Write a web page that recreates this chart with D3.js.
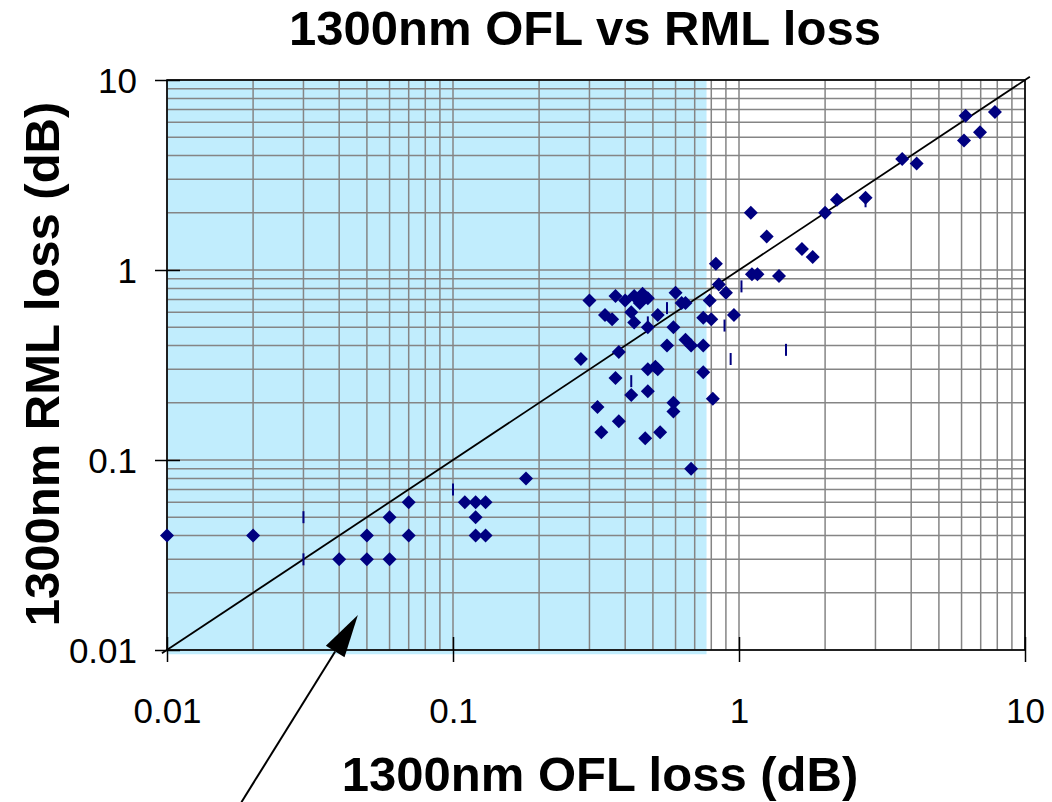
<!DOCTYPE html>
<html>
<head>
<meta charset="utf-8">
<script src="https://cdn.jsdelivr.net/npm/d3@7"></script>
<style>
    body { margin: 0; background: #fff; }
    text { font-family: Arial, "Liberation Sans", sans-serif; fill: #000; }
</style>
</head>
<body>
<div id="chart"></div>
<script>

// measured points (x = OFL loss, y = RML loss), dB
var oflLoss = [0.01, 0.02, 0.04, 0.05, 0.05, 0.06, 0.06, 0.07, 0.07, 0.11, 0.12, 0.13, 0.12, 0.12, 0.13, 0.18,
    0.28, 0.30, 0.37, 0.40, 0.43, 0.46, 0.45, 0.48, 0.60, 0.63, 0.65, 0.79, 0.83, 0.85, 0.90,
    0.34, 0.36, 0.42, 0.43, 0.52, 0.48, 0.59, 0.75, 0.80, 0.96,
    0.38, 0.56, 0.65, 0.68, 0.75, 0.37, 0.48, 0.51, 0.52, 0.75,
    0.42, 0.48, 0.59, 0.59, 0.81, 0.32, 0.38, 0.33, 0.47, 0.53, 0.68,
    1.10, 1.25, 1.11, 1.16, 1.38, 1.66, 1.81, 2.0, 2.20, 2.77, 3.72, 4.18, 6.20, 6.12, 6.96, 7.85];
var rmlLoss = [0.04, 0.04, 0.03, 0.04, 0.03, 0.03, 0.05, 0.06, 0.04, 0.06, 0.06, 0.06, 0.05, 0.04, 0.04, 0.08,
    0.34, 0.69, 0.73, 0.69, 0.73, 0.75, 0.67, 0.71, 0.76, 0.67, 0.67, 0.69, 1.08, 0.84, 0.76,
    0.58, 0.55, 0.60, 0.53, 0.58, 0.50, 0.50, 0.56, 0.55, 0.58,
    0.37, 0.40, 0.43, 0.40, 0.40, 0.27, 0.30, 0.31, 0.30, 0.29,
    0.22, 0.23, 0.20, 0.18, 0.21, 0.19, 0.16, 0.14, 0.13, 0.14, 0.09,
    2.0, 1.50, 0.95, 0.95, 0.93, 1.29, 1.17, 2.0, 2.34, 2.40, 3.84, 3.64, 6.49, 4.80, 5.31, 6.79];

// second series drawn as short vertical dashes
var dashOfl = [0.03, 0.03, 0.10, 0.42, 0.48, 0.56, 0.89, 0.935, 1.02, 1.46, 2.77];
var dashRml = [0.05, 0.03, 0.07, 0.26, 0.53, 0.63, 0.51, 0.34, 0.82, 0.38, 2.3];

// shaded region (OFL range) and y = x reference
var shadeRange = [0.01, 0.77];
var shadeRml = [0.0095, 10];
var refLine = [0.0096, 10.4];

// annotation arrow, tail -> tip, in data units
var arrowOfl = [0.0182, 0.0465];
var arrowRml = [0.00158, 0.01528];

var tickValues = [0.01, 0.1, 1, 10];
var tickLabels = ["0.01", "0.1", "1", "10"];

var chartTitle = "1300nm OFL vs RML loss";
var xTitle = "1300nm OFL loss (dB)";
var yTitle = "1300nm RML loss (dB)";

var margin = {top: 80, right: 27, bottom: 152, left: 167};
var width = 1052 - margin.left - margin.right,
    height = 802 - margin.top - margin.bottom;

var svg = d3.select("#chart")
    .append("svg")
    .attr("width", 1052)
    .attr("height", 802)
    .style("display", "block");

var g = svg.append("g")
    .attr("transform", "translate(" + margin.left + "," + margin.top + ")");

var x = d3.scaleLog().domain([0.01, 10]).range([0, width]);
var y = d3.scaleLog().domain([0.01, 10]).range([height, 0]);

// light blue band
g.append("rect")
    .attr("x", x(shadeRange[0]))
    .attr("y", y(shadeRml[1]))
    .attr("width", x(shadeRange[1]) - x(shadeRange[0]))
    .attr("height", y(shadeRml[0]) - y(shadeRml[1]))
    .style("fill", "#c1edfd");

// grid
g.append("g").selectAll("line")
    .data(x.ticks())
    .enter().append("line")
    .attr("x1", function(d) { return x(d); })
    .attr("x2", function(d) { return x(d); })
    .attr("y1", 0)
    .attr("y2", height)
    .style("stroke", "#858585")
    .style("stroke-width", 1.5);

g.append("g").selectAll("line")
    .data(y.ticks())
    .enter().append("line")
    .attr("y1", function(d) { return y(d); })
    .attr("y2", function(d) { return y(d); })
    .attr("x1", 0)
    .attr("x2", width)
    .style("stroke", "#858585")
    .style("stroke-width", 1.5);

// frame
g.append("rect")
    .attr("width", width)
    .attr("height", height)
    .style("fill", "none")
    .style("stroke", "#000")
    .style("stroke-width", 1.6);

// axes with crossing tick marks
var yAxis = d3.axisLeft(y).tickValues(tickValues)
    .tickFormat(function(d, i) { return tickLabels[i]; })
    .tickSize(12).tickPadding(18);
var xAxis = d3.axisBottom(x).tickValues(tickValues)
    .tickFormat(function(d, i) { return tickLabels[i]; })
    .tickSize(12).tickPadding(36);

var gy = g.append("g").attr("class", "axis").call(yAxis);
var gx = g.append("g").attr("class", "axis")
    .attr("transform", "translate(0," + height + ")")
    .call(xAxis);

[gx, gy].forEach(function(a) {
    a.select(".domain").remove();
    a.selectAll(".tick line").style("stroke", "#000").style("stroke-width", 1.5);
    a.selectAll("text")
        .style("font-family", "Arial, 'Liberation Sans', sans-serif")
        .style("font-size", "35px")
        .style("fill", "#000");
});
gy.selectAll(".tick").append("line")
    .attr("x2", 13).style("stroke", "#000").style("stroke-width", 1.5);
gx.selectAll(".tick").append("line")
    .attr("y2", -13).style("stroke", "#000").style("stroke-width", 1.5);
gy.selectAll("text").attr("dy", "0.36em");
gx.selectAll("text").attr("dy", "0.71em");

// y = x line
g.append("line")
    .attr("x1", x(refLine[0])).attr("y1", y(refLine[0]))
    .attr("x2", x(refLine[1])).attr("y2", y(refLine[1]))
    .style("stroke", "#000")
    .style("stroke-width", 1.8);

// dash series
g.append("g").selectAll("line")
    .data(dashOfl)
    .enter().append("line")
    .attr("x1", function(d) { return x(d); })
    .attr("x2", function(d) { return x(d); })
    .attr("y1", function(d, i) { return y(dashRml[i]) - 6; })
    .attr("y2", function(d, i) { return y(dashRml[i]) + 6; })
    .style("stroke", "#000080")
    .style("stroke-width", 2);

// diamonds
var diamond = d3.symbol().type(d3.symbolSquare).size(98);
g.append("g").selectAll("path")
    .data(oflLoss)
    .enter().append("path")
    .attr("d", diamond)
    .attr("transform", function(d, i) {
        return "translate(" + x(d) + "," + y(rmlLoss[i]) + ") rotate(45)";
    })
    .style("fill", "#000080");

// arrow
var ax0 = x(arrowOfl[0]), ay0 = y(arrowRml[0]),
    ax1 = x(arrowOfl[1]), ay1 = y(arrowRml[1]);
var ang = Math.atan2(ay1 - ay0, ax1 - ax0),
    headLen = 43, headHalf = 11;
var bx = ax1 - headLen * Math.cos(ang), by = ay1 - headLen * Math.sin(ang);
g.append("line")
    .attr("x1", ax0).attr("y1", ay0)
    .attr("x2", bx).attr("y2", by)
    .style("stroke", "#000")
    .style("stroke-width", 2);
g.append("path")
    .attr("d", "M" + ax1 + "," + ay1 +
        "L" + (bx + headHalf * Math.sin(ang)) + "," + (by - headHalf * Math.cos(ang)) +
        "L" + (bx - headHalf * Math.sin(ang)) + "," + (by + headHalf * Math.cos(ang)) + "Z")
    .style("fill", "#000");

// titles
svg.append("text")
    .attr("x", 585)
    .attr("y", 45)
    .attr("text-anchor", "middle")
    .style("font-size", "49px")
    .style("font-weight", "bold")
    .text(chartTitle);

svg.append("text")
    .attr("x", 600)
    .attr("y", 791)
    .attr("text-anchor", "middle")
    .style("font-size", "49px")
    .style("font-weight", "bold")
    .text(xTitle);

svg.append("text")
    .attr("transform", "translate(59,364) rotate(-90)")
    .attr("text-anchor", "middle")
    .style("font-size", "49px")
    .style("font-weight", "bold")
    .text(yTitle);

</script>
</body>
</html>
